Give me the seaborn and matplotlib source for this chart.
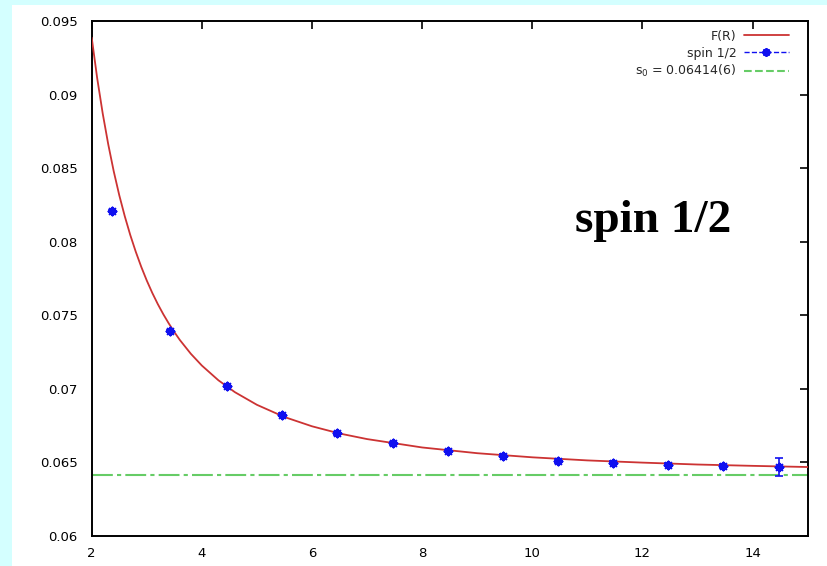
import matplotlib
matplotlib.use("Agg")
import matplotlib.pyplot as plt
from matplotlib.lines import Line2D
from matplotlib.patches import Rectangle
import seaborn as sns
import pandas as pd

# ---- data ----
spin_R = [2.37, 3.43, 4.45, 5.46, 6.46, 7.47, 8.47, 9.47, 10.47, 11.47, 12.47, 13.47, 14.47]
spin_val = [0.08208, 0.07392, 0.07018, 0.06821, 0.06698, 0.0663, 0.06576,
            0.06543, 0.06509, 0.06496, 0.06482, 0.06475, 0.06467]
spin_err = [0.0001, 0.0001, 0.0001, 0.0001, 0.0001, 0.0001, 0.0001,
            0.0001, 0.00015, 0.0001, 0.0001, 0.00015, 0.0006]

fit_R = [2.0, 2.1, 2.2, 2.3, 2.4, 2.5, 2.6, 2.7, 2.8, 2.9, 3.0, 3.1, 3.2, 3.3, 3.4, 3.5,
         3.6, 3.8, 4.0, 4.3, 4.6, 5.0, 5.5, 6.0, 6.5, 7.0, 8.0, 9.0, 10.0, 11.0, 12.0,
         13.0, 14.0, 15.0]
fit_F = [0.09387, 0.09110, 0.08871, 0.08662, 0.08478, 0.08316, 0.08173, 0.08045,
         0.07931, 0.07828, 0.07735, 0.07651, 0.07575, 0.07506, 0.07443, 0.07385,
         0.07331, 0.07237, 0.07157, 0.07057, 0.06976, 0.06890, 0.06807, 0.06744,
         0.06695, 0.06657, 0.06600, 0.06561, 0.06533, 0.06512, 0.06497, 0.06484,
         0.06475, 0.06467]

s0 = 0.06414
x_ticks = [2, 4, 6, 8, 10, 12, 14]
y_ticks = [0.06, 0.065, 0.07, 0.075, 0.08, 0.085, 0.09, 0.095]
y_tick_labels = ["0.06", "0.065", "0.07", "0.075", "0.08", "0.085", "0.09", "0.095"]

labels = ["F(R)", "spin 1/2", r"s$_0$ = 0.06414(6)"]

RED = "#cc3333"
BLUE = "#1010f0"
GREEN = "#66cc66"

sns.set_theme(style="white")
plt.rcParams["font.family"] = ["DejaVu Sans"]

fig = plt.figure(figsize=(8.27, 5.66), dpi=100, facecolor="#d4ffff")
W, H = 827, 566
bg = Rectangle((12 / W, 0), 1, 1 - 5 / H, transform=fig.transFigure,
               facecolor="white", edgecolor="none", zorder=-10)
fig.add_artist(bg)

ax = fig.add_axes([91.7 / W, 1 - 535.7 / H, (807.7 - 91.7) / W, (535.7 - 21) / H])
ax.set_zorder(5)
ax.set_facecolor("white")

fit_df = pd.DataFrame({"R": fit_R, "F": fit_F})
sns.lineplot(data=fit_df, x="R", y="F", ax=ax, color=RED, lw=1.3, zorder=3)

ax.axhline(s0, color=GREEN, lw=1.5, ls=(0, (10, 2, 2, 2)), zorder=2)

ax.errorbar(spin_R, spin_val, yerr=spin_err, fmt="none", ecolor=BLUE,
            elinewidth=1.2, capsize=3, capthick=1.2, zorder=4)
spin_df = pd.DataFrame({"R": spin_R, "v": spin_val})
sns.scatterplot(data=spin_df, x="R", y="v", ax=ax, marker=(8, 2, 0), s=30,
                color=BLUE, edgecolor=BLUE, linewidth=1.6, zorder=5)

ax.set_xlim(2, 15)
ax.set_ylim(0.06, 0.095)
ax.set_xticks(x_ticks)
ax.set_xticklabels([str(t) for t in x_ticks])
ax.set_yticks(y_ticks)
ax.set_yticklabels(y_tick_labels)
ax.set_xlabel("")
ax.set_ylabel("")
ax.tick_params(direction="in", length=6, width=1.2, top=True, right=True,
               labelsize=9.5, colors="black", pad=8)
ax.tick_params(axis="y", pad=10)
for s in ax.spines.values():
    s.set_color("black")
    s.set_linewidth(1.4)

handles = [Line2D([], [], color=RED, lw=1.3),
           Line2D([], [], color=BLUE, lw=1.0, ls="--", marker=(8, 2, 0), ms=6, mew=1.5),
           Line2D([], [], color=GREEN, lw=1.5, ls="--")]
ax.legend(handles, labels, loc="upper right", bbox_to_anchor=(0.986, 1.0),
          frameon=False, markerfirst=False, fontsize=9, handlelength=3.6,
          handletextpad=0.6, labelspacing=0.3, borderaxespad=0.3)

ax.text(0.675, 0.590, "spin 1/2", transform=ax.transAxes, ha="left", va="baseline",
        fontsize=34, fontweight="bold", family=["Liberation Serif", "DejaVu Serif"],
        color="black")

fig.savefig("out.png", dpi=100, facecolor=fig.get_facecolor())
